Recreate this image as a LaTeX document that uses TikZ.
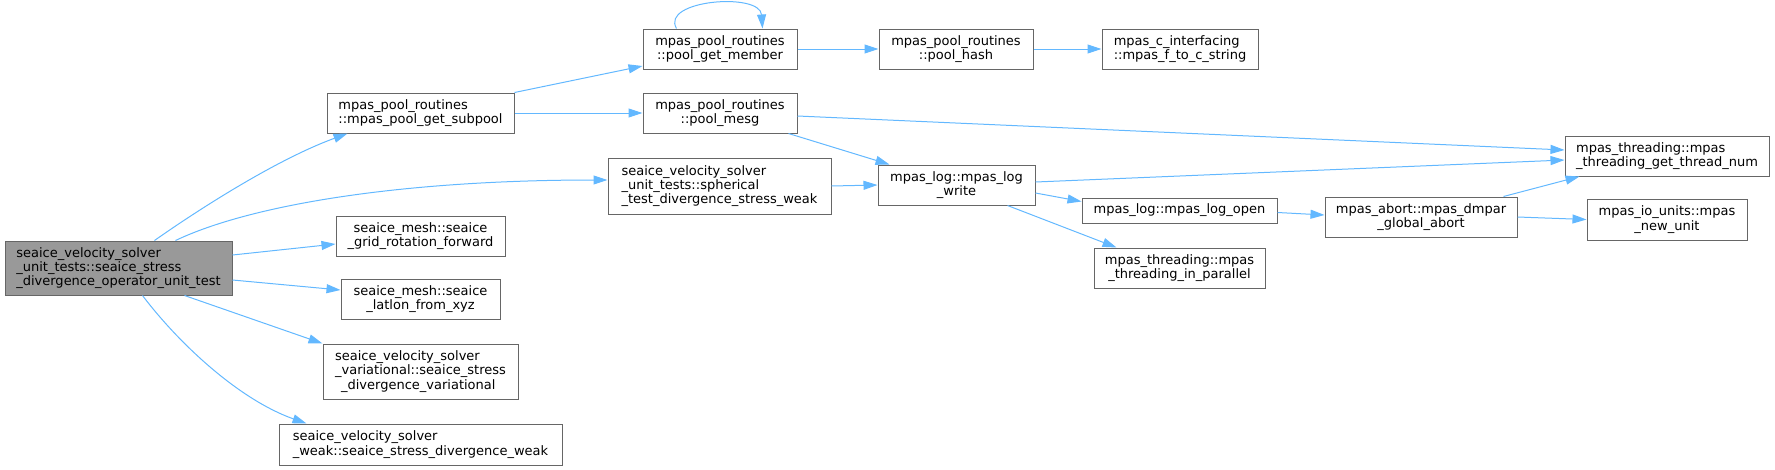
\documentclass[tikz,border=0pt]{standalone}
\usepackage{fontspec}
\setmainfont{DejaVu Sans}
\usetikzlibrary{arrows.meta}
\definecolor{callblue}{HTML}{63B8FF}
\definecolor{boxline}{HTML}{666666}
\definecolor{rootgray}{HTML}{999999}

\begin{document}
\begin{tikzpicture}[
    x=1pt,y=-1pt,
    >={Triangle[length=14pt,width=9pt]},
    fn/.style={
        draw=boxline,
        line width=1pt,
        fill=white,
        inner sep=0pt,
        font=\fontsize{13}{14.3}\selectfont,
        align=center,
        minimum height=40pt
    },
    fnl/.style={fn, align=left},
    rootfn/.style={fnl, fill=rootgray},
    call/.style={draw=callblue, line width=1pt, ->}
]

% ===== frame =====
\useasboundingbox (0,0) rectangle (1775,469);

% ===== caller =====
\node[rootfn, minimum width=227pt, minimum height=54pt] (root) at (118.5,268)
  {seaice\_velocity\_solver\\\_unit\_tests::seaice\_stress\\\_divergence\_operator\_unit\_test};

% ===== first column =====
\node[fnl, minimum width=187pt] (subpool) at (420.5,113)
  {mpas\_pool\_routines\\::mpas\_pool\_get\_subpool};
\node[fn, minimum width=169pt] (gridrot) at (420.5,236)
  {seaice\_mesh::seaice\\\_grid\_rotation\_forward};
\node[fn, minimum width=159pt] (latlon) at (420.5,299)
  {seaice\_mesh::seaice\\\_latlon\_from\_xyz};
\node[fnl, minimum width=195pt, minimum height=55pt] (variational) at (420.5,371.5)
  {seaice\_velocity\_solver\\\_variational::seaice\_stress\\\hspace*{6pt}\_divergence\_variational};
\node[fnl, minimum width=283pt, minimum height=41pt] (weak) at (420.5,444.5)
  {seaice\_velocity\_solver\\\_weak::seaice\_stress\_divergence\_weak};

% ===== second column =====
\node[fn, minimum width=154pt] (getmember) at (720,49)
  {mpas\_pool\_routines\\::pool\_get\_member};
\node[fn, minimum width=154pt] (poolmesg) at (720,113)
  {mpas\_pool\_routines\\::pool\_mesg};
\node[fnl, minimum width=223pt, minimum height=56pt] (spherical) at (719.5,186)
  {seaice\_velocity\_solver\\\_unit\_tests::spherical\\\_test\_divergence\_stress\_weak};

% ===== third column =====
\node[fn, minimum width=154pt] (poolhash) at (956,49)
  {mpas\_pool\_routines\\::pool\_hash};
\node[fn, minimum width=157pt] (logwrite) at (956.5,185)
  {mpas\_log::mpas\_log\\\_write};

% ===== fourth column =====
\node[fnl, minimum width=156pt] (ftoc) at (1180,49)
  {mpas\_c\_interfacing\\::mpas\_f\_to\_c\_string};
\node[fn, minimum width=195pt, minimum height=25pt] (logopen) at (1179.5,210.5)
  {mpas\_log::mpas\_log\_open};
\node[fn, minimum width=171pt] (inparallel) at (1179.5,268)
  {mpas\_threading::mpas\\\_threading\_in\_parallel};

% ===== fifth and sixth column =====
\node[fn, minimum width=192pt] (dmpar) at (1421,217)
  {mpas\_abort::mpas\_dmpar\\\_global\_abort};
\node[fnl, minimum width=204pt] (threadnum) at (1667,156)
  {mpas\_threading::mpas\\\_threading\_get\_thread\_num};
\node[fn, minimum width=160pt, minimum height=41pt] (newunit) at (1667,219.5)
  {mpas\_io\_units::mpas\\\_new\_unit};

% ===== calls from root =====
\draw[call] ([xshift=150pt]root.north west)
  .. controls (195,212) and (275,160) .. ([xshift=21pt]subpool.south west);
\draw[call] ([xshift=171pt]root.north west)
  .. controls (250,205) and (400,180) .. ([yshift=6pt]spherical.west);
\draw[call] ([yshift=13pt]root.east) -- ([yshift=-8pt]gridrot.west);
\draw[call] ([yshift=-12pt]root.east) -- ([yshift=9pt]latlon.west);
\draw[call] ([xshift=180pt]root.south west) -- (variational.north west);
\draw[call] ([xshift=138pt]root.south west)
  .. controls (180,345) and (240,400) .. ([xshift=28pt]weak.north west);

% ===== pool routines =====
\draw[call] (subpool.north east) -- ([yshift=-17pt]getmember.west);
\draw[call] (subpool.east) -- (poolmesg.west);
\draw[call] ([xshift=34pt]getmember.north west)
  .. controls (660,0) and (760,-8) .. ([xshift=-35pt]getmember.north east);
\draw[call] (getmember.east) -- (poolhash.west);
\draw[call] (poolhash.east) -- (ftoc.west);
\draw[call] ([yshift=-3pt]poolmesg.east) -- ([yshift=6pt]threadnum.west);
\draw[call] ([xshift=-9pt]poolmesg.south east) -- ([xshift=12pt]logwrite.north west);
\draw[call] (spherical.east) -- (logwrite.west);

% ===== logging =====
\draw[call] ([yshift=3pt]logwrite.east) -- ([yshift=-4pt]threadnum.west);
\draw[call] ([yshift=-8pt]logwrite.east) -- ([yshift=9pt]logopen.west);
\draw[call] ([xshift=-28pt]logwrite.south east) -- ([xshift=23pt]inparallel.north west);
\draw[call] ([yshift=-2pt]logopen.east) -- ([yshift=2pt]dmpar.west);
\draw[call] ([xshift=-14pt]dmpar.north east) -- ([xshift=15pt]threadnum.south west);
\draw[call] (dmpar.east) -- (newunit.west);
\end{tikzpicture}
\end{document}
